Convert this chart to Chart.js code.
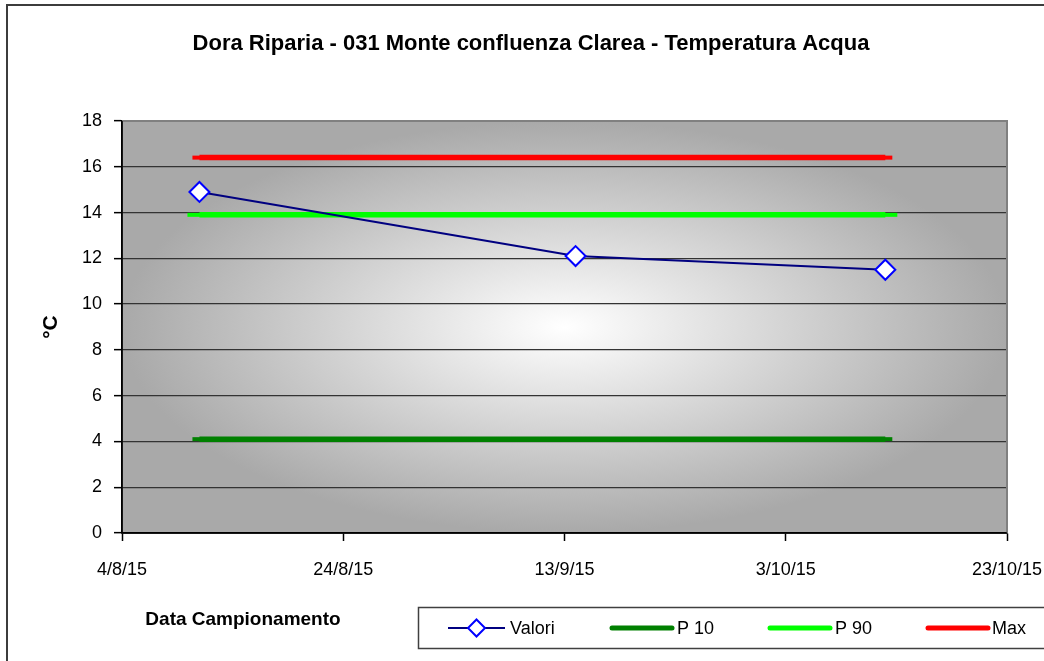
<!DOCTYPE html>
<html><head><meta charset="utf-8">
<script src="https://cdn.jsdelivr.net/npm/chart.js@4.4.0/dist/chart.umd.min.js"></script>
<style>html,body{margin:0;padding:0;background:#fff;}#wrap{width:1044px;height:661px;position:relative;}canvas{display:block;}</style>
</head><body><div id="wrap"><canvas id="c" width="1044" height="661"></canvas></div>
<script>
// ---- data ----
const chartTitle = 'Dora Riparia - 031 Monte confluenza Clarea - Temperatura Acqua';
const xTitle = 'Data Campionamento';
const yTitle = '°C';
const sampleDates = ['2015-08-11', '2015-09-14', '2015-10-12'];
const valori = [14.9, 12.1, 11.5];
const p10 = [4.1, 4.1, 4.1];
const p90 = [13.9, 13.9, 13.9];
const maxVals = [16.4, 16.4, 16.4];
const seriesNames = ['Valori', 'P 10', 'P 90', 'Max'];
const xTickDates = ['2015-08-04', '2015-08-24', '2015-09-13', '2015-10-03', '2015-10-23'];
const yTickValues = [0, 2, 4, 6, 8, 10, 12, 14, 16, 18];

const toMs = s => { const [y, m, d] = s.split('-').map(Number); return Date.UTC(y, m - 1, d); };
const fmt = v => { const d = new Date(v); return d.getUTCDate() + '/' + (d.getUTCMonth() + 1) + '/' + String(d.getUTCFullYear()).slice(2); };
const pts = arr => sampleDates.map((s, i) => ({ x: toMs(s), y: arr[i] }));
const xTicksMs = xTickDates.map(toMs);

const FONT = "'Liberation Sans', Arial, sans-serif";

const bgPlugin = {
  id: 'bg',
  beforeDraw(chart) {
    const { ctx, chartArea: a } = chart;
    ctx.save();
    // outer frame
    ctx.strokeStyle = '#3c3c3c'; ctx.lineWidth = 2;
    ctx.strokeRect(7, 5, 1100, 700);
    // title
    ctx.fillStyle = '#000'; ctx.font = 'bold 22px ' + FONT; ctx.textAlign = 'center'; ctx.textBaseline = 'middle';
    ctx.fillText(chartTitle, 531, 44);
    ctx.beginPath(); ctx.rect(a.left, a.top, a.right - a.left, a.bottom - a.top); ctx.clip();
    const cx = (a.left + a.right) / 2, cy = (a.top + a.bottom) / 2;
    ctx.translate(cx, cy); ctx.scale((a.right - a.left) / 2, (a.bottom - a.top) / 2);
    const g = ctx.createRadialGradient(0, 0, 0, 0, 0, 1);
    g.addColorStop(0, '#ffffff'); g.addColorStop(1, '#a9a9a9');
    ctx.fillStyle = g; ctx.fillRect(-2, -2, 4, 4);
    ctx.restore();
  },
  beforeDatasetsDraw(chart) {
    const { ctx, chartArea: a } = chart;
    ctx.save();
    ctx.strokeStyle = '#808080'; ctx.lineWidth = 2;
    ctx.beginPath(); ctx.moveTo(a.left, a.top); ctx.lineTo(a.right, a.top); ctx.lineTo(a.right, a.bottom); ctx.stroke();
    ctx.strokeStyle = '#000'; ctx.lineWidth = 1.5;
    ctx.beginPath(); ctx.moveTo(a.left, a.top); ctx.lineTo(a.left, a.bottom); ctx.lineTo(a.right, a.bottom); ctx.stroke();
    ctx.restore();
  },
  afterDraw(chart) {
    const ctx = chart.ctx;
    ctx.save();
    // x axis title
    ctx.fillStyle = '#000'; ctx.font = 'bold 19px ' + FONT; ctx.textAlign = 'center'; ctx.textBaseline = 'middle';
    ctx.fillText(xTitle, 243, 620);
    // legend box
    ctx.strokeStyle = '#404040'; ctx.lineWidth = 1.5;
    ctx.strokeRect(418.5, 607.5, 700, 41);
    const ly = 628;
    const items = [
      { x1: 448, x2: 505, tx: 510, color: '#000080', w: 2, marker: true },
      { x1: 612, x2: 672, tx: 677, color: '#008000', w: 5 },
      { x1: 770, x2: 830, tx: 835, color: '#00ff00', w: 5 },
      { x1: 928, x2: 988, tx: 992, color: '#ff0000', w: 5 }
    ];
    ctx.font = '18px ' + FONT; ctx.textAlign = 'left';
    items.forEach((it, i) => {
      ctx.strokeStyle = it.color; ctx.lineWidth = it.w; ctx.lineCap = it.marker ? 'butt' : 'round';
      ctx.beginPath(); ctx.moveTo(it.x1, ly); ctx.lineTo(it.x2, ly); ctx.stroke();
      if (it.marker) {
        const mx = (it.x1 + it.x2) / 2, r = 8.5;
        ctx.beginPath(); ctx.moveTo(mx, ly - r); ctx.lineTo(mx + r, ly); ctx.lineTo(mx, ly + r); ctx.lineTo(mx - r, ly); ctx.closePath();
        ctx.fillStyle = '#fff'; ctx.fill(); ctx.strokeStyle = '#0000ff'; ctx.lineWidth = 2; ctx.stroke();
      }
      ctx.fillStyle = '#000';
      ctx.fillText(seriesNames[i], it.tx, ly + 1);
    });
    ctx.restore();
  }
};

new Chart(document.getElementById('c'), {
  type: 'line',
  data: {
    datasets: [
      { label: seriesNames[0], data: pts(valori), borderColor: '#000080', borderWidth: 2,
        pointStyle: 'rectRot', pointRadius: 10, pointBackgroundColor: '#ffffff', pointBorderColor: '#0000ff', pointBorderWidth: 2 },
      { label: seriesNames[1], data: pts(p10), borderColor: '#008000', borderWidth: 5.5,
        pointStyle: 'line', pointRadius: 7, pointBorderColor: '#008000', pointBorderWidth: 4 },
      { label: seriesNames[2], data: pts(p90), borderColor: '#00ff00', borderWidth: 5.5,
        pointStyle: 'line', pointRadius: 12, pointBorderColor: '#00ff00', pointBorderWidth: 4 },
      { label: seriesNames[3], data: pts(maxVals), borderColor: '#ff0000', borderWidth: 5.5,
        pointStyle: 'line', pointRadius: 7, pointBorderColor: '#ff0000', pointBorderWidth: 4 }
    ]
  },
  options: {
    responsive: false, animation: false, events: [],
    layout: { padding: { left: 30, right: 37, top: 121, bottom: 0 } },
    plugins: {
      legend: { display: false }, tooltip: { enabled: false }, title: { display: false }
    },
    scales: {
      x: {
        type: 'linear', min: xTicksMs[0], max: xTicksMs[xTicksMs.length - 1],
        afterBuildTicks: s => { s.ticks = xTicksMs.map(v => ({ value: v })); },
        afterFit: s => { s.height = 128; s.paddingLeft = 0; s.paddingRight = 0; },
        grid: { drawOnChartArea: false, drawTicks: true, tickLength: 8, tickColor: '#000', tickWidth: 1.5 },
        border: { display: true, color: '#000', width: 1.5 },
        ticks: { callback: v => fmt(v), autoSkip: false, maxRotation: 0, padding: 18, color: '#000', font: { family: FONT, size: 18 } }
      },
      y: {
        min: 0, max: 18,
        afterBuildTicks: s => { s.ticks = yTickValues.map(v => ({ value: v })); },
        afterFit: s => { s.width = 92; s.paddingTop = 0; s.paddingBottom = 0; },
        grid: { color: '#333333', lineWidth: 1.3, tickLength: 8, tickColor: '#000', tickWidth: 1.5 },
        border: { display: true, color: '#000', width: 1.5 },
        ticks: { padding: 12, color: '#000', font: { family: FONT, size: 18 } },
        title: { display: true, text: yTitle, color: '#000', font: { family: FONT, size: 21, weight: 'bold' }, padding: { top: 9, bottom: 0 } }
      }
    }
  },
  plugins: [bgPlugin]
});
</script></body></html>
